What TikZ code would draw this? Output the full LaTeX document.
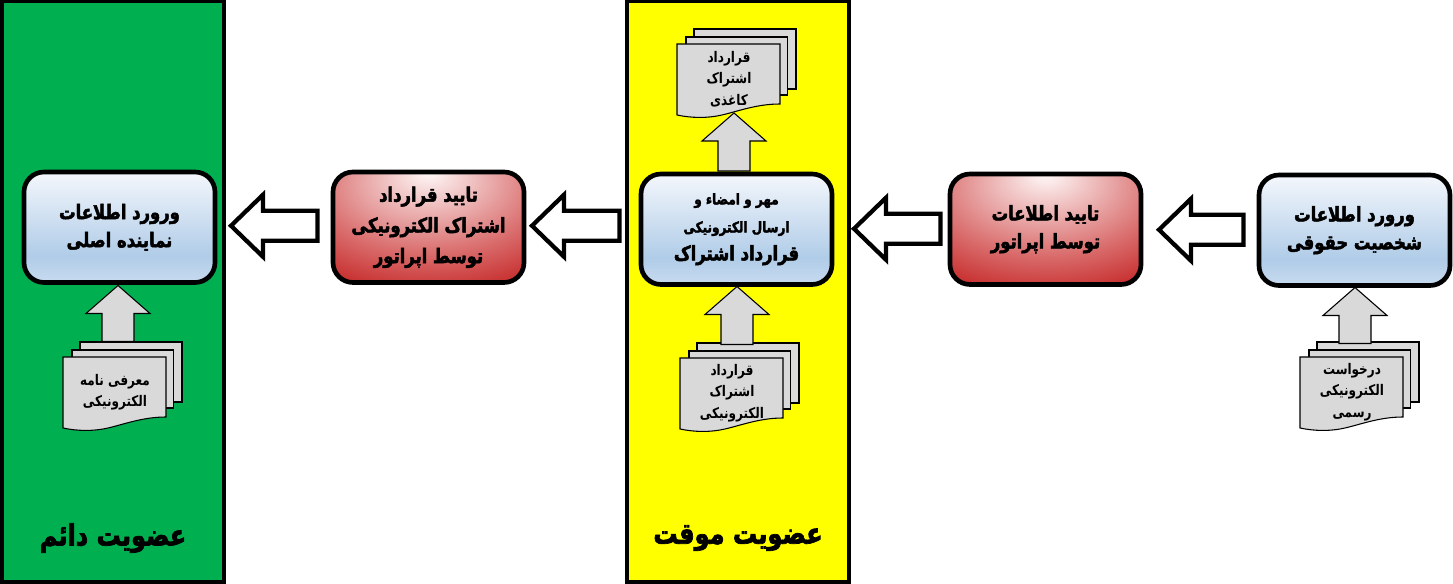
\documentclass[tikz,border=0pt]{standalone}
\usepackage{fontspec}
\usetikzlibrary{calc}
\TeXXeTstate=1
\newfontfamily\farsi[Script=Arabic,FakeStretch=0.82,BoldFeatures={FakeBold=2.4}]{DejaVu Sans}
\newfontfamily\farsidoc[Script=Arabic,FakeStretch=0.82]{DejaVu Sans}
\newcommand{\rl}[1]{\beginR #1\endR}
\definecolor{bluetop}{HTML}{F4F7FC}
\definecolor{bluemid}{HTML}{B0CCE8}
\definecolor{bluelow}{HTML}{C8DBEF}
\definecolor{redtop}{HTML}{FFF8F8}
\definecolor{redmid}{HTML}{EBB0B0}
\definecolor{redsoft}{HTML}{D96A6A}
\definecolor{redlow}{HTML}{C62A2A}
\definecolor{reddark}{HTML}{B81010}
\definecolor{panelgreen}{HTML}{00B050}
\definecolor{panelyellow}{HTML}{FFFF00}
\definecolor{docgray}{HTML}{D9D9D9}
\pgfdeclareverticalshading{bluegrad}{100bp}{color(0bp)=(bluelow); color(25bp)=(bluelow); color(37bp)=(bluemid); color(75bp)=(bluetop); color(100bp)=(bluetop)}
\pgfdeclareradialshading{redgrad}{\pgfpoint{0bp}{25bp}}{color(0bp)=(redtop); color(15bp)=(redmid); color(30bp)=(redsoft); color(45bp)=(redlow); color(56bp)=(reddark); color(100bp)=(reddark)}
\tikzset{
  x=0.75pt,y=-0.75pt,
  panel/.style={draw=black,line width=3pt,minimum height=580.5*0.75pt,inner sep=0pt,outer sep=0pt,anchor=north west},
  stepbox/.style={draw=black,line width=3.5pt,rounded corners=15pt,minimum width=191*0.75pt,minimum height=110.5*0.75pt,inner sep=0pt,outer sep=0pt,align=center,font=\farsi\bfseries\fontsize{15}{21}\selectfont,anchor=north west},
  bluebox/.style={stepbox,shading=bluegrad},
  redbox/.style={stepbox,shading=redgrad},
  hollow/.style={draw=black,line width=3.2pt,fill=white,miter limit=10},
  grayarrow/.style={draw=black,line width=0.8pt,fill=docgray},
  sheet/.style={draw=black,line width=0.8pt,fill=docgray},
  doctext/.style={font=\farsidoc\bfseries\fontsize{11}{16}\selectfont,align=center,inner sep=0pt},
  paneltitle/.style={font=\farsi\bfseries\fontsize{22}{24}\selectfont,inner sep=0pt}
}
% #1 name, #2 x, #3 y of front sheet corner, #4 text
\newcommand{\docstack}[4]{%
  \begin{scope}[shift={(#2,#3)}]
    \draw[sheet] (17,-15) rectangle (119,45);
    \draw[sheet] (9,-7) rectangle (110.5,51);
    \draw[sheet] (0,0) -- (103,0) -- (103,60) .. controls (80,60) and (62,67) .. (45,71) .. controls (30,74.5) and (14,74) .. (0,71) -- cycle;
    \node[doctext] (#1) at (52,35) {#4};
  \end{scope}}
\newcommand{\uparrowfrom}[2]{% #1 tip coordinate, #2 length
  \draw[grayarrow] (#1) -- ++(32,28) -- ++(-16,0) -- ++(0,#2-28) -- ++(-32,0) -- ++(0,-#2+28) -- ++(-16,0) -- cycle;}
\newcommand{\hollowarrow}[2]{% #1 tip coordinate, #2 total length
  \draw[hollow] (#1) -- ++(32,-31) -- ++(0,16) -- ++(#2-32,0) -- ++(0,30) -- ++(-#2+32,0) -- ++(0,16) -- cycle;}
\begin{document}
\begin{tikzpicture}
\useasboundingbox (0,0) rectangle (1453,584);
\fill[white] (0,0) rectangle (1453,584);
\node[panel,fill=panelgreen,minimum width=222.5*0.75pt] (greenpanel) at (1.5,1.5) {};
\node[panel,fill=panelyellow,minimum width=222*0.75pt] (yellowpanel) at (627,1.5) {};
\node[paneltitle] (greentitle) at (113,538) {\rl{عضویت دائم}};
\node[paneltitle] (yellowtitle) at (738,538) {\rl{عضویت موقت}};
% boxes
\node[bluebox] (b1) at (24,172) {\rl{ورورد اطلاعات}\\\rl{نماینده اصلی}};
\node[redbox,font=\farsi\bfseries\fontsize{15}{23}\selectfont] (b2) at (333,172) {\rl{تایید قرارداد}\\\rl{اشتراک الکترونیکی}\\\rl{توسط اپراتور}};
\node[bluebox] (b3) at (641,174) {\fontsize{11}{15}\selectfont\rl{مهر و امضاء و}\\\fontsize{11}{15}\selectfont\rl{ارسال الکترونیکی}\\\fontsize{15}{16}\selectfont\rl{قرارداد اشتراک}};
\node[redbox] (b4) at (950,174) {\rl{تایید اطلاعات}\\\rl{توسط اپراتور}};
\node[bluebox] (b5) at (1259,175) {\rl{ورورد اطلاعات}\\\rl{شخصیت حقوقی}};
% hollow connectors
\coordinate (t1) at ($(b1.east)+(16,-1.5)$);
\coordinate (t2) at ($(b2.east)+(8,-1.5)$);
\coordinate (t3) at ($(b3.east)+(22,-0.5)$);
\coordinate (t4) at ($(b4.east)+(18,0.5)$);
\hollowarrow{t1}{86.5}
\hollowarrow{t2}{87.5}
\hollowarrow{t3}{86.5}
\hollowarrow{t4}{84.5}
% documents
\docstack{d1}{63}{357}{\rl{معرفی نامه}\\\rl{الکترونیکی}}
\docstack{d2}{677}{44}{\rl{قرارداد}\\\rl{اشتراک}\\\rl{کاغذی}}
\docstack{d3}{680}{358}{\rl{قرارداد}\\\rl{اشتراک}\\\rl{الکترونیکی}}
\docstack{d4}{1300}{357}{\rl{درخواست}\\\rl{الکترونیکی}\\\rl{رسمی}}
% gray arrows
\coordinate (g1) at ($(b1.south)+(-1.5,3)$);
\coordinate (g2) at ($(b3.north)+(-2.5,-61)$);
\coordinate (g3) at ($(b3.south)+(0.5,2)$);
\coordinate (g4) at ($(b5.south)+(0.5,2)$);
\uparrowfrom{g1}{56}
\uparrowfrom{g2}{58}
\uparrowfrom{g3}{58}
\uparrowfrom{g4}{56}
\end{tikzpicture}
\end{document}
